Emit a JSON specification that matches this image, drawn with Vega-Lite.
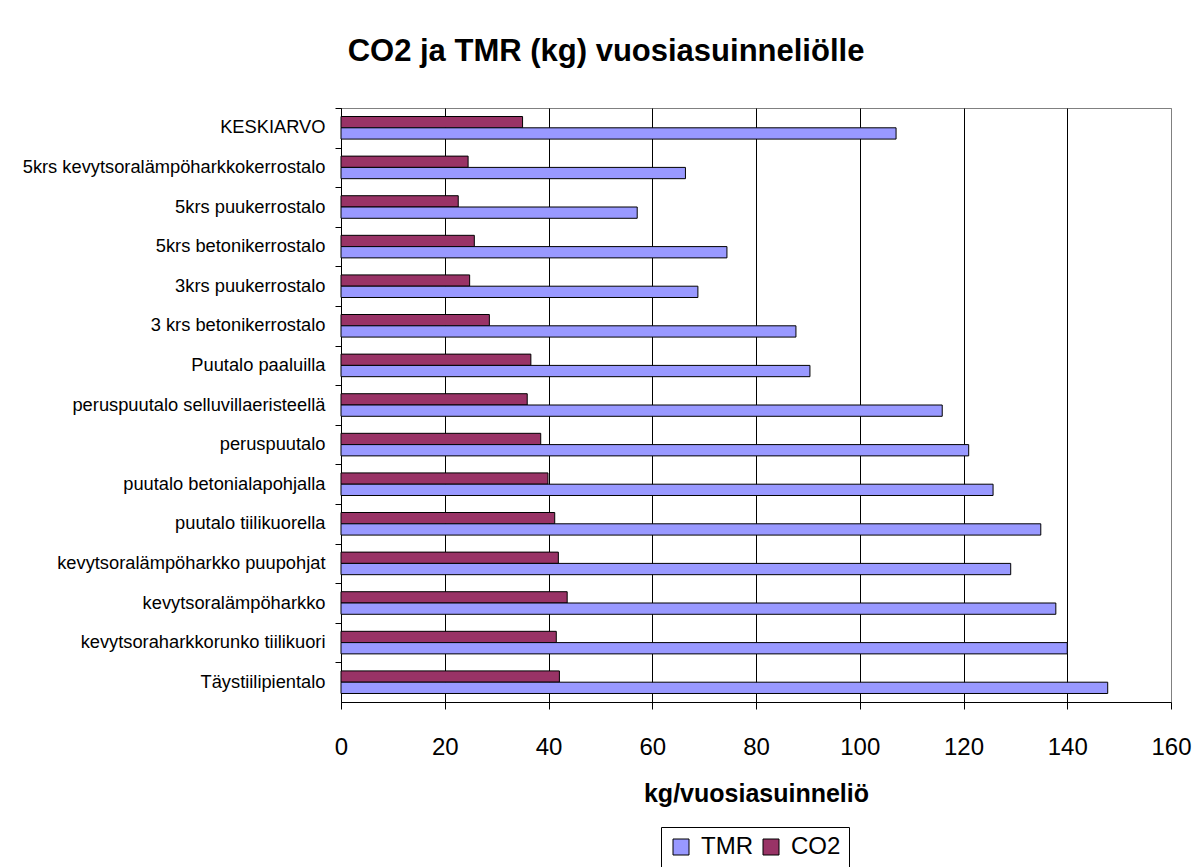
{
  "$schema": "https://vega.github.io/schema/vega-lite/v6.json",
  "autosize": "none",
  "width": 830,
  "height": 594,
  "padding": {"left": 341, "top": 108, "right": 32, "bottom": 165},
  "background": "white",
  "title": {
    "text": "CO2 ja TMR (kg) vuosiasuinneliölle",
    "font": "Liberation Sans",
    "fontSize": 31,
    "fontWeight": "bold",
    "color": "black",
    "anchor": "middle",
    "frame": "group",
    "dx": -150,
    "offset": 40
  },
  "data": {
    "values": [
      {"talo": "KESKIARVO", "sarja": "CO2", "arvo": 35.0},
      {"talo": "KESKIARVO", "sarja": "TMR", "arvo": 107.0},
      {"talo": "5krs kevytsoralämpöharkkokerrostalo", "sarja": "CO2", "arvo": 24.5},
      {"talo": "5krs kevytsoralämpöharkkokerrostalo", "sarja": "TMR", "arvo": 66.4},
      {"talo": "5krs puukerrostalo", "sarja": "CO2", "arvo": 22.6},
      {"talo": "5krs puukerrostalo", "sarja": "TMR", "arvo": 57.1},
      {"talo": "5krs betonikerrostalo", "sarja": "CO2", "arvo": 25.7},
      {"talo": "5krs betonikerrostalo", "sarja": "TMR", "arvo": 74.4},
      {"talo": "3krs puukerrostalo", "sarja": "CO2", "arvo": 24.8},
      {"talo": "3krs puukerrostalo", "sarja": "TMR", "arvo": 68.8},
      {"talo": "3 krs betonikerrostalo", "sarja": "CO2", "arvo": 28.6},
      {"talo": "3 krs betonikerrostalo", "sarja": "TMR", "arvo": 87.7},
      {"talo": "Puutalo paaluilla", "sarja": "CO2", "arvo": 36.6},
      {"talo": "Puutalo paaluilla", "sarja": "TMR", "arvo": 90.4},
      {"talo": "peruspuutalo selluvillaeristeellä", "sarja": "CO2", "arvo": 35.9},
      {"talo": "peruspuutalo selluvillaeristeellä", "sarja": "TMR", "arvo": 115.9},
      {"talo": "peruspuutalo", "sarja": "CO2", "arvo": 38.5},
      {"talo": "peruspuutalo", "sarja": "TMR", "arvo": 121.0},
      {"talo": "puutalo betonialapohjalla", "sarja": "CO2", "arvo": 39.9},
      {"talo": "puutalo betonialapohjalla", "sarja": "TMR", "arvo": 125.7},
      {"talo": "puutalo tiilikuorella", "sarja": "CO2", "arvo": 41.2},
      {"talo": "puutalo tiilikuorella", "sarja": "TMR", "arvo": 134.9},
      {"talo": "kevytsoralämpöharkko puupohjat", "sarja": "CO2", "arvo": 41.9},
      {"talo": "kevytsoralämpöharkko puupohjat", "sarja": "TMR", "arvo": 129.1},
      {"talo": "kevytsoralämpöharkko", "sarja": "CO2", "arvo": 43.6},
      {"talo": "kevytsoralämpöharkko", "sarja": "TMR", "arvo": 137.8},
      {"talo": "kevytsoraharkkorunko tiilikuori", "sarja": "CO2", "arvo": 41.5},
      {"talo": "kevytsoraharkkorunko tiilikuori", "sarja": "TMR", "arvo": 140.0},
      {"talo": "Täystiilipientalo", "sarja": "CO2", "arvo": 42.1},
      {"talo": "Täystiilipientalo", "sarja": "TMR", "arvo": 147.8}
    ]
  },
  "mark": {"type": "bar", "stroke": "black", "strokeWidth": 1},
  "encoding": {
    "y": {
      "field": "talo",
      "type": "nominal",
      "sort": null,
      "scale": {"paddingInner": 0.43, "paddingOuter": 0.215},
      "axis": {
        "title": null,
        "labelFont": "Liberation Sans",
        "labelFontSize": 18.3,
        "labelColor": "black",
        "labelPadding": 10,
        "labelLimit": 400,
        "tickColor": "black",
        "tickSize": 6,
        "tickOffset": -19.8,
        "labelOffset": 19.8,
        "domainColor": "black",
        "domainWidth": 1
      }
    },
    "yOffset": {
      "field": "sarja",
      "type": "nominal",
      "scale": {"domain": ["CO2", "TMR"], "paddingInner": 0, "paddingOuter": 0}
    },
    "x": {
      "field": "arvo",
      "type": "quantitative",
      "scale": {"domain": [0, 160], "nice": false},
      "axis": {
        "title": "kg/vuosiasuinneliö",
        "titleFont": "Liberation Sans",
        "titleFontSize": 25,
        "titleFontWeight": "bold",
        "titleColor": "black",
        "titlePadding": 22,
        "values": [0, 20, 40, 60, 80, 100, 120, 140, 160],
        "labelFont": "Liberation Sans",
        "labelFontSize": 24,
        "labelColor": "black",
        "labelPadding": 26,
        "labelFlush": false,
        "tickColor": "black",
        "tickSize": 7,
        "domainColor": "black",
        "grid": true,
        "gridColor": {"condition": {"test": "datum.value === 160", "value": "#808080"}, "value": "black"},
        "gridOpacity": 1,
        "gridWidth": 1
      }
    },
    "color": {
      "field": "sarja",
      "type": "nominal",
      "scale": {"domain": ["TMR", "CO2"], "range": ["#9999FF", "#993366"]},
      "legend": {
        "title": null,
        "orient": "none",
        "legendX": 320,
        "legendY": 719,
        "direction": "horizontal",
        "strokeColor": "black",
        "fillColor": "white",
        "padding": 8,
        "symbolType": "square",
        "symbolSize": 256,
        "symbolStrokeColor": "black",
        "symbolStrokeWidth": 1,
        "symbolOpacity": 1,
        "labelFont": "Liberation Sans",
        "labelFontSize": 24,
        "labelColor": "black",
        "labelOffset": 8,
        "columnPadding": 6
      }
    }
  },
  "config": {
    "view": {"stroke": "#808080", "strokeWidth": 1},
    "axis": {"labelFont": "Liberation Sans"}
  }
}
